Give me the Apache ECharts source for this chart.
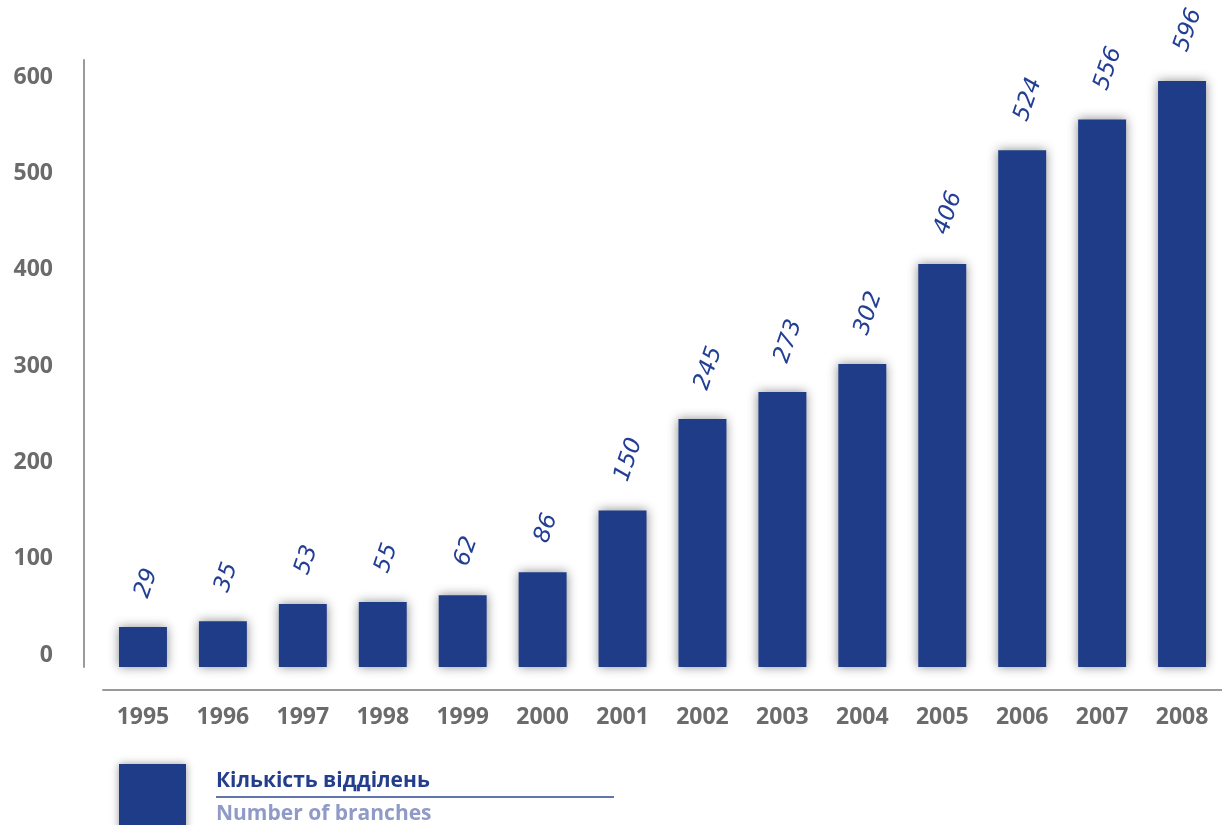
<!DOCTYPE html>
<html>
<head>
<meta charset="utf-8">
<script src="https://cdn.jsdelivr.net/npm/echarts@6/dist/echarts.min.js"></script>
<style>
  html, body { margin: 0; padding: 0; background: #fff; }
  #chart { width: 1222px; height: 825px; }
</style>
</head>
<body>
<div id="chart"></div>
<script>
// Роки та кількість відділень
const years = ['1995', '1996', '1997', '1998', '1999', '2000', '2001', '2002', '2003', '2004', '2005', '2006', '2007', '2008'];
const branches = [29, 35, 53, 55, 62, 86, 150, 245, 273, 302, 406, 524, 556, 596];
const yTicks = [0, 100, 200, 300, 400, 500, 600];

const barColor = '#1f3c88';
const labelColor = '#6b6b6b';
const axisColor = '#9a9a9a';
const yMin = -12.5;

const chart = echarts.init(document.getElementById('chart'));

// стовпчик від низу осі + рукописний підпис над ним
function renderBar(params, api) {
    const top = api.coord([api.value(0), api.value(1)]);
    const base = api.coord([api.value(0), yMin]);
    const w = api.size([1, 0])[0] * 0.6;
    return {
        type: 'group',
        children: [
            {
                type: 'rect',
                shape: {x: top[0] - w / 2, y: top[1], width: w, height: base[1] - top[1]},
                style: {
                    fill: barColor,
                    shadowBlur: 10,
                    shadowColor: 'rgba(0,0,0,0.45)'
                }
            },
            {
                type: 'text',
                x: top[0] - 1,
                y: top[1] - 30,
                rotation: 71 * Math.PI / 180,
                style: {
                    text: String(api.value(1)),
                    fill: '#233f95',
                    font: 'italic 23px "DejaVu Sans"',
                    align: 'left',
                    verticalAlign: 'middle'
                }
            }
        ]
    };
}

const option = {
    animation: false,
    grid: {left: 103, right: 0, top: 60, bottom: 825 - 667},
    xAxis: {
        type: 'category',
        data: years,
        offset: 23,
        axisLine: {onZero: false, lineStyle: {color: axisColor, width: 2}},
        axisTick: {show: false},
        axisLabel: {
            margin: 16,
            color: labelColor,
            fontFamily: 'Open Sans',
            fontWeight: 'bold',
            fontSize: 23
        }
    },
    yAxis: {
        type: 'value',
        min: yMin,
        max: 617.7,
        offset: 19,
        splitLine: {show: false},
        axisLine: {show: true, lineStyle: {color: axisColor, width: 2}},
        axisTick: {show: false},
        axisLabel: {
            customValues: yTicks,
            margin: 31,
            color: labelColor,
            fontFamily: 'Open Sans',
            fontWeight: 'bold',
            fontSize: 23
        }
    },
    series: [{
        type: 'custom',
        renderItem: renderBar,
        encode: {x: 0, y: 1},
        data: branches.map((v, i) => [i, v])
    }],
    // легенда
    graphic: [
        {
            type: 'rect',
            shape: {x: 119, y: 764, width: 67, height: 80},
            style: {fill: barColor, shadowBlur: 8, shadowColor: 'rgba(0,0,0,0.4)'}
        },
        {
            type: 'text',
            x: 216, y: 781,
            style: {
                text: 'Кількість відділень',
                fill: '#223e8c',
                font: 'bold 21px "Open Sans"',
                verticalAlign: 'middle'
            }
        },
        {
            type: 'line',
            shape: {x1: 216, y1: 797, x2: 614, y2: 797},
            style: {stroke: '#2b4792', lineWidth: 1.5}
        },
        {
            type: 'text',
            x: 216, y: 814,
            style: {
                text: 'Number of branches',
                fill: '#8f9bc6',
                font: 'bold 21px "Open Sans"',
                verticalAlign: 'middle'
            }
        }
    ]
};

chart.setOption(option);
</script>
</body>
</html>
